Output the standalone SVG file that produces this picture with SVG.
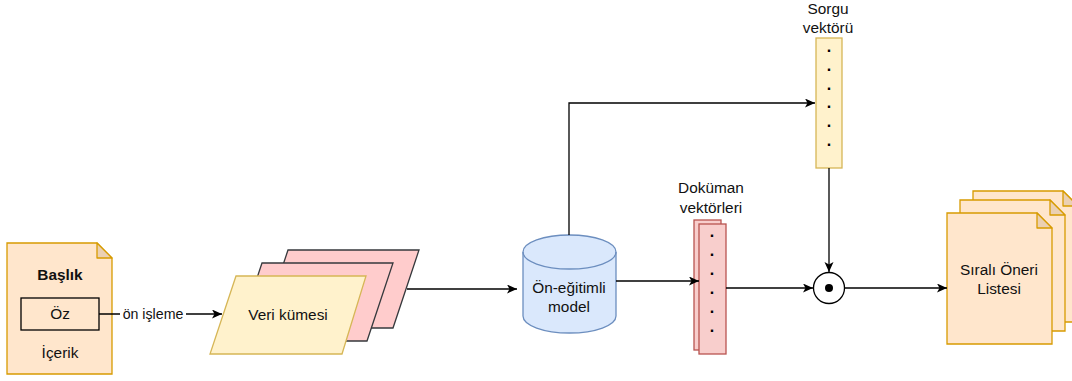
<svg xmlns="http://www.w3.org/2000/svg" width="1072" height="381" viewBox="0 0 1072 381">
  <defs>
    <marker id="arrow" markerUnits="userSpaceOnUse" markerWidth="12" markerHeight="10" refX="10" refY="4.5" orient="auto">
      <path d="M0,0 L10,4.5 L0,9 L2.5,4.5 Z" fill="#000"/>
    </marker>
    <style>
      text { font-family: "Liberation Sans", Arial, sans-serif; font-size: 15.4px; fill: #111; text-anchor: middle; }
      .edge { fill: none; stroke: #000; stroke-width: 1.3; }
      .doc { fill: #ffe6cc; stroke: #d79b00; stroke-width: 1.3; }
      .fold { fill: #ebd0b2; stroke: #d79b00; stroke-width: 1.3; stroke-linejoin: round; }
      .data-back { fill: #ffcccc; stroke: #36393d; stroke-width: 1.3; }
      .data-front { fill: #fff2cc; stroke: #d6b656; stroke-width: 1.3; }
      .vec-red { fill: #f8cecc; stroke: #b85450; stroke-width: 1.3; }
      .vec-yellow { fill: #fff2cc; stroke: #d6b656; stroke-width: 1.3; }
      .dot { font-size: 16px; font-weight: bold; fill: #000; }
      .edge-label { font-size: 14.2px; }
    </style>
  </defs>

  <!-- source document: title, abstract, body -->
  <g id="source-doc">
    <path class="doc" d="M7,243 H97 L112,258 V374 H7 Z"/>
    <path class="fold" d="M97,243 V258 H112 Z"/>
    <text x="60" y="280" font-weight="bold">Başlık</text>
    <rect x="21" y="298" width="78" height="32" fill="none" stroke="#000" stroke-width="1.3"/>
    <text x="60" y="319">Öz</text>
    <text x="60" y="358">İçerik</text>
  </g>

  <!-- dataset stack -->
  <g id="dataset">
    <path class="data-back" d="M288,250 H419 L393,328 H262 Z"/>
    <path class="data-back" d="M262,263 H393 L367,341 H236 Z"/>
    <path class="data-front" d="M236,276 H366 L342,354 H210 Z"/>
    <text x="288" y="320">Veri kümesi</text>
  </g>

  <!-- pretrained model -->
  <g id="model">
    <path d="M523,252 A46.5,17 0 0 1 616,252 V316 A46.5,17 0 0 1 523,316 Z" fill="#dae8fc" stroke="#6c8ebf" stroke-width="1.3"/>
    <path d="M523,252 A46.5,17 0 0 0 616,252" fill="none" stroke="#6c8ebf" stroke-width="1.3"/>
    <text x="569" y="293">Ön-eğitimli</text>
    <text x="569" y="312">model</text>
  </g>

  <!-- document embeddings -->
  <g id="doc-vectors">
    <text x="711" y="193">Doküman</text>
    <text x="711" y="213">vektörleri</text>
    <rect class="vec-red" x="694" y="220" width="27" height="130"/>
    <rect class="vec-red" x="699" y="224" width="27" height="130"/>
    <text class="dot" x="712" y="237">.</text>
    <text class="dot" x="712" y="256">.</text>
    <text class="dot" x="712" y="275">.</text>
    <text class="dot" x="712" y="294">.</text>
    <text class="dot" x="712" y="313">.</text>
    <text class="dot" x="712" y="332">.</text>
  </g>

  <!-- query embedding -->
  <g id="query-vector">
    <text x="828" y="14">Sorgu</text>
    <text x="828" y="33">vektörü</text>
    <rect class="vec-yellow" x="816" y="38" width="26" height="130"/>
    <text class="dot" x="829" y="52">.</text>
    <text class="dot" x="829" y="71">.</text>
    <text class="dot" x="829" y="89.5">.</text>
    <text class="dot" x="829" y="108">.</text>
    <text class="dot" x="829" y="127">.</text>
    <text class="dot" x="829" y="145.5">.</text>
  </g>

  <!-- dot product operator -->
  <g id="dot-product">
    <circle cx="829" cy="288" r="15.5" fill="#fff" stroke="#000" stroke-width="1.3"/>
    <circle cx="829" cy="288" r="4" fill="#000"/>
  </g>

  <!-- ranked recommendation list -->
  <g id="ranked-list">
    <path class="doc" d="M973,191 H1063 L1078,206 V322 H973 Z"/>
    <path class="fold" d="M1063,191 V206 H1078 Z"/>
    <path class="doc" d="M960,200 H1050 L1065,215 V331 H960 Z"/>
    <path class="fold" d="M1050,200 V215 H1065 Z"/>
    <path class="doc" d="M947,213 H1037 L1052,228 V344 H947 Z"/>
    <path class="fold" d="M1037,213 V228 H1052 Z"/>
    <text x="999" y="275">Sıralı Öneri</text>
    <text x="999" y="294">Listesi</text>
  </g>

  <!-- connectors -->
  <g id="connectors">
    <path class="edge" d="M99,314 H222" marker-end="url(#arrow)"/>
    <rect x="120" y="305" width="66" height="17" fill="#fff"/>
    <text class="edge-label" x="153" y="319">ön işleme</text>
    <path class="edge" d="M407,289 H517" marker-end="url(#arrow)"/>
    <path class="edge" d="M569,235 V103 H815" marker-end="url(#arrow)"/>
    <path class="edge" d="M616,281 H699" marker-end="url(#arrow)"/>
    <path class="edge" d="M726,288 H813" marker-end="url(#arrow)"/>
    <path class="edge" d="M829,168 V272" marker-end="url(#arrow)"/>
    <path class="edge" d="M845,288 H947" marker-end="url(#arrow)"/>
  </g>
</svg>
